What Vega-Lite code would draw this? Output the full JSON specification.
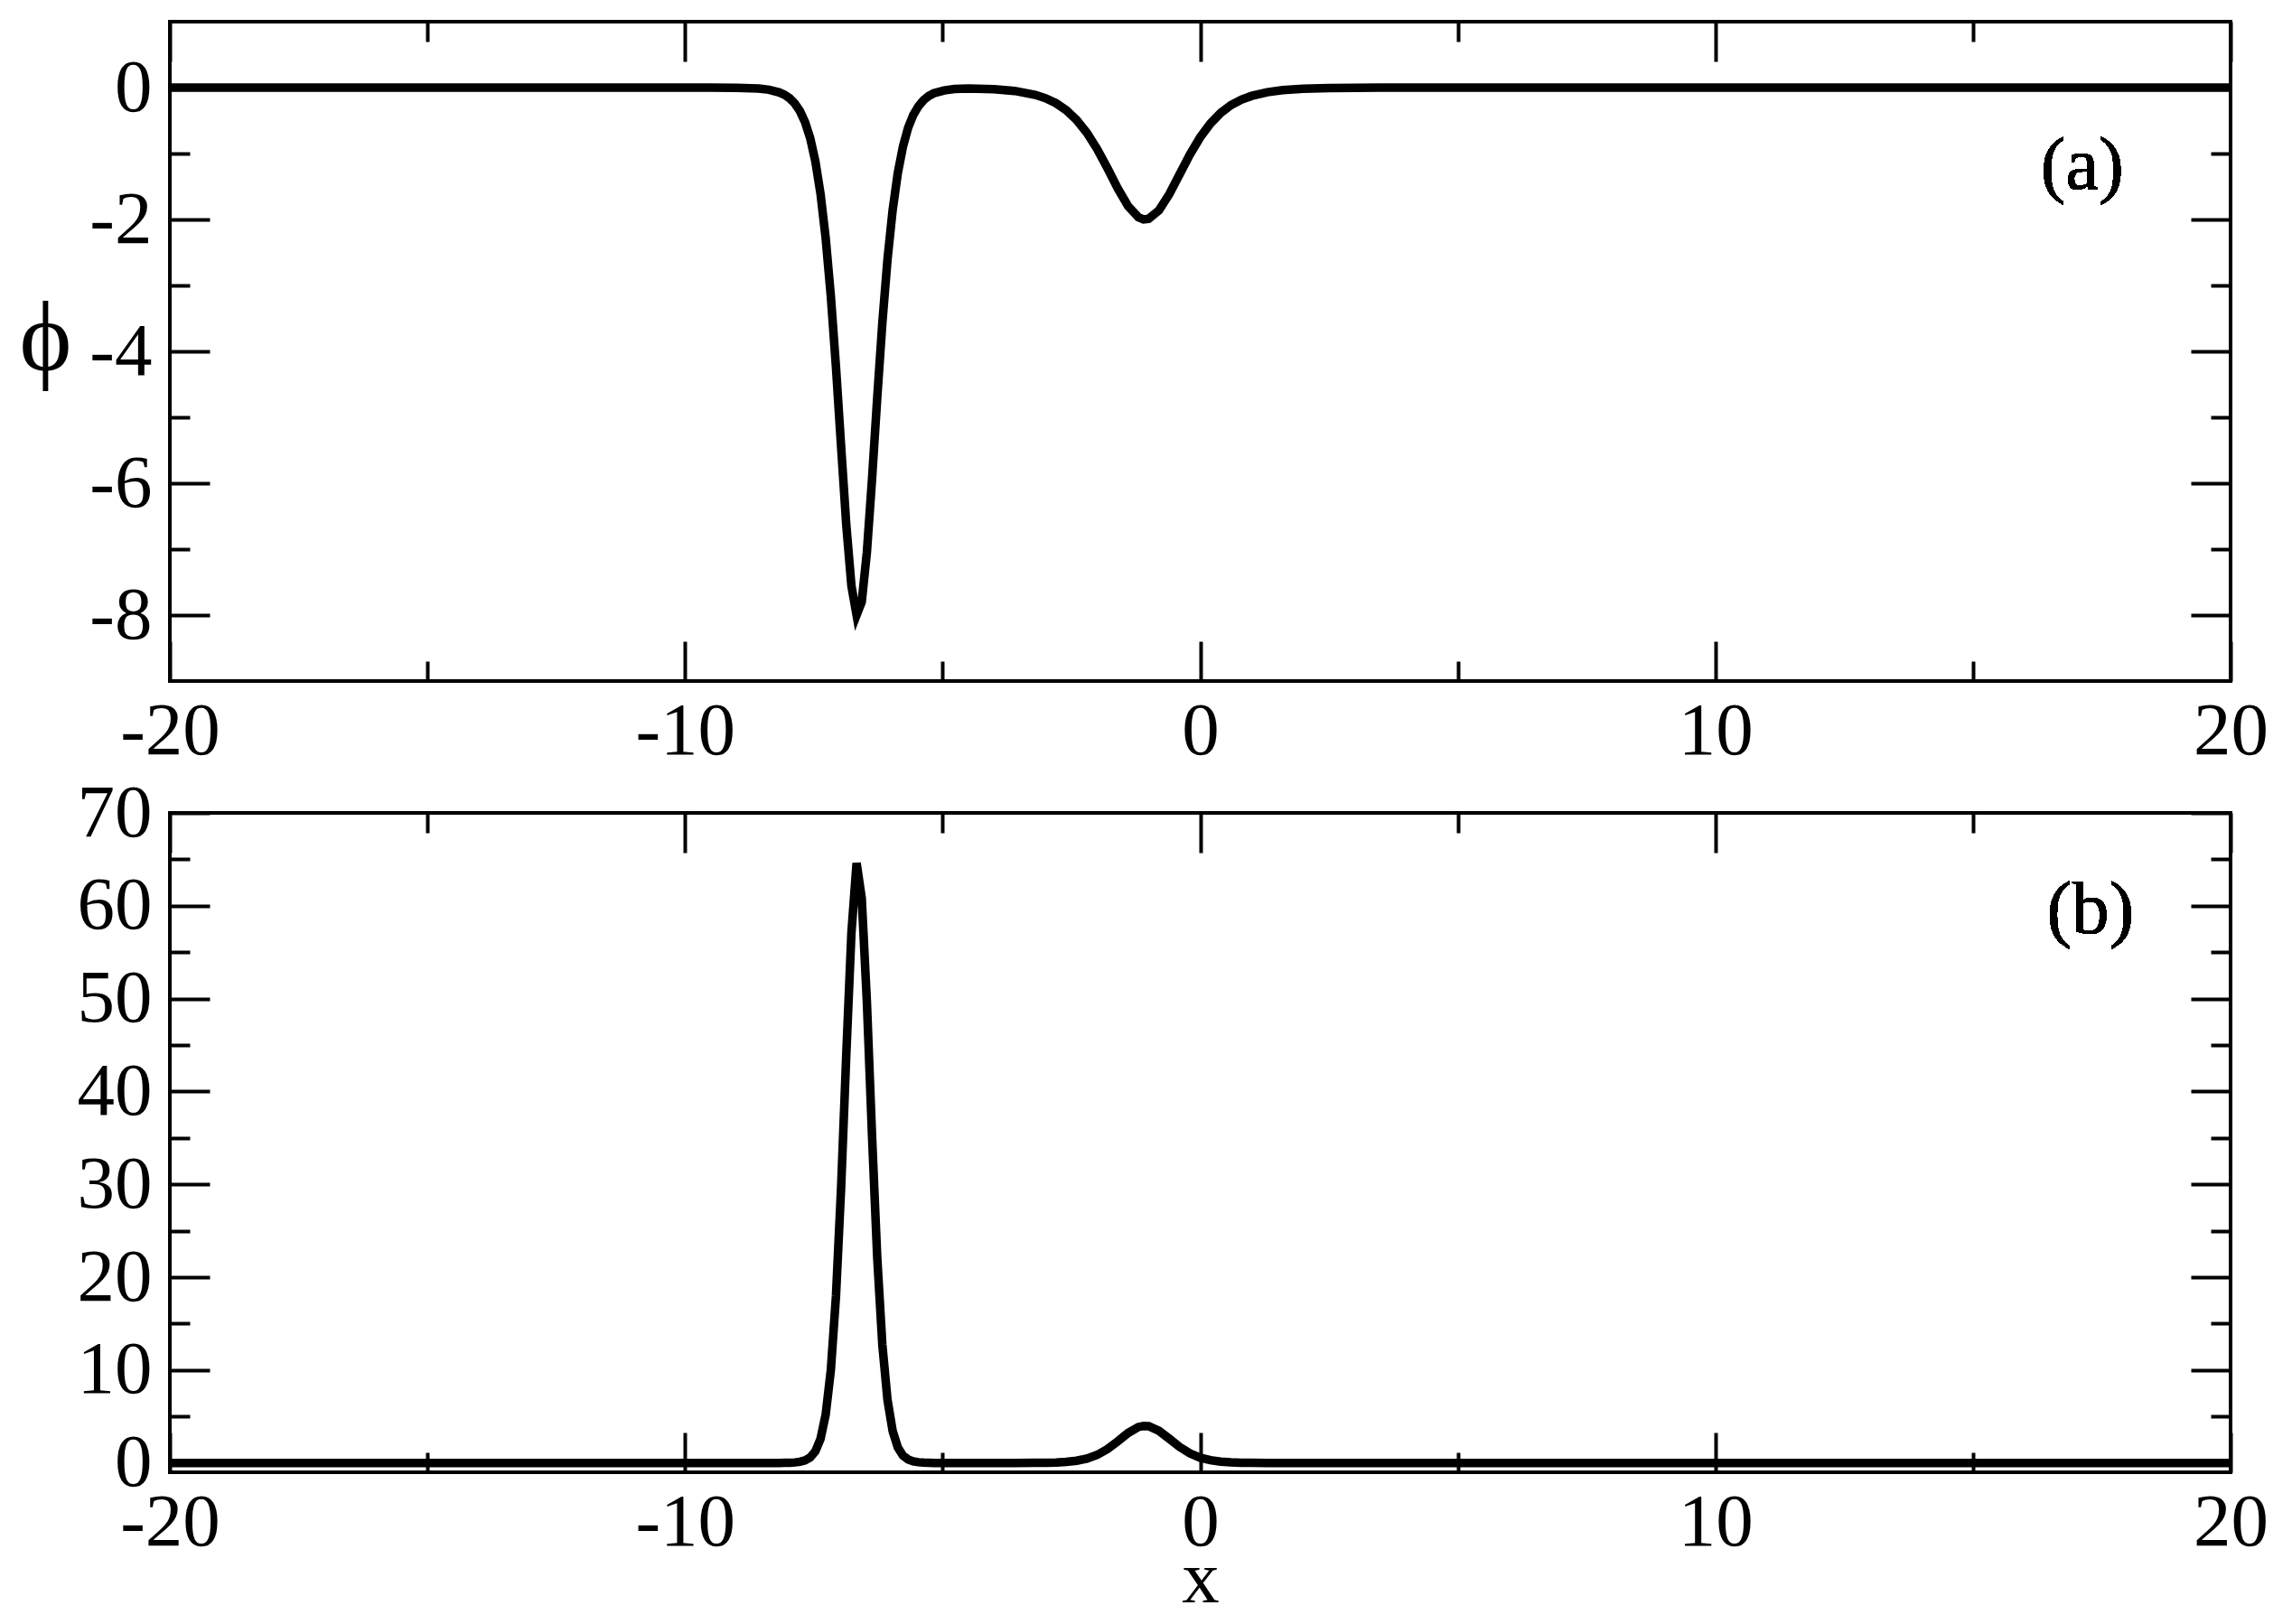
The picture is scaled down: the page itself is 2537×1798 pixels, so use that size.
{
  "$schema": "https://vega.github.io/schema/vega-lite/v6.json",
  "padding": {"left": 19, "top": 20, "right": 5, "bottom": 5},
  "background": "white",
  "config": {
    "font": "Liberation Serif",
    "view": {"stroke": "black", "strokeWidth": 4},
    "axis": {
      "domain": false, "grid": false, "tickColor": "black", "tickWidth": 4,
      "labelColor": "black", "labelFont": "Liberation Serif", "labelFontSize": 83,
      "labelFlush": false, "labelOverlap": false, "labelBound": false,
      "labelExpr": "'' + datum.value",
      "titleFont": "Liberation Serif", "titleColor": "black", "titleFontWeight": "normal"
    }
  },
  "datasets": {
    "phi": [
      {"x": -20, "y": 0}, {"x": -15, "y": 0}, {"x": -12, "y": 0}, {"x": -10, "y": 0},
      {"x": -9.5, "y": -0.0004}, {"x": -9, "y": -0.0027}, {"x": -8.57, "y": -0.0148},
      {"x": -8.37, "y": -0.0328}, {"x": -8.17, "y": -0.0729}, {"x": -8.07, "y": -0.1084},
      {"x": -7.97, "y": -0.1614}, {"x": -7.87, "y": -0.2395}, {"x": -7.77, "y": -0.3546},
      {"x": -7.67, "y": -0.5233}, {"x": -7.57, "y": -0.7678}, {"x": -7.47, "y": -1.1178},
      {"x": -7.37, "y": -1.610}, {"x": -7.27, "y": -2.281}, {"x": -7.17, "y": -3.161},
      {"x": -7.07, "y": -4.238}, {"x": -6.97, "y": -5.449}, {"x": -6.87, "y": -6.631},
      {"x": -6.77, "y": -7.556}, {"x": -6.67, "y": -8.0}, {"x": -6.57, "y": -7.799},
      {"x": -6.47, "y": -7.047}, {"x": -6.37, "y": -5.936}, {"x": -6.27, "y": -4.713},
      {"x": -6.17, "y": -3.568}, {"x": -6.07, "y": -2.607}, {"x": -5.97, "y": -1.856},
      {"x": -5.87, "y": -1.296}, {"x": -5.77, "y": -0.894}, {"x": -5.67, "y": -0.611},
      {"x": -5.57, "y": -0.415}, {"x": -5.47, "y": -0.283}, {"x": -5.37, "y": -0.190},
      {"x": -5.27, "y": -0.128}, {"x": -5.17, "y": -0.086}, {"x": -4.97, "y": -0.042},
      {"x": -4.77, "y": -0.022}, {"x": -4.5, "y": -0.0136}, {"x": -4, "y": -0.0235},
      {"x": -3.6, "y": -0.0502}, {"x": -3.2, "y": -0.1098}, {"x": -3, "y": -0.1616},
      {"x": -2.8, "y": -0.2363}, {"x": -2.6, "y": -0.3423}, {"x": -2.4, "y": -0.4888},
      {"x": -2.2, "y": -0.6844}, {"x": -2, "y": -0.9325}, {"x": -1.8, "y": -1.2235},
      {"x": -1.6, "y": -1.5288}, {"x": -1.4, "y": -1.7973}, {"x": -1.2, "y": -1.9666},
      {"x": -1.1, "y": -1.998}, {"x": -1, "y": -1.9902}, {"x": -0.8, "y": -1.861},
      {"x": -0.6, "y": -1.6157}, {"x": -0.4, "y": -1.3156}, {"x": -0.2, "y": -1.0161},
      {"x": 0, "y": -0.7535}, {"x": 0.2, "y": -0.542}, {"x": 0.4, "y": -0.3815},
      {"x": 0.6, "y": -0.2644}, {"x": 0.8, "y": -0.1813}, {"x": 1, "y": -0.1254},
      {"x": 1.3, "y": -0.0693}, {"x": 1.6, "y": -0.0382}, {"x": 2, "y": -0.0172},
      {"x": 2.5, "y": -0.0063}, {"x": 3, "y": -0.0023}, {"x": 4, "y": -0.0003},
      {"x": 5, "y": 0}, {"x": 10, "y": 0}, {"x": 15, "y": 0}, {"x": 20, "y": 0}
    ],
    "sq": [
      {"x": -20, "y": 0}, {"x": -15, "y": 0}, {"x": -12, "y": 0}, {"x": -10, "y": 0},
      {"x": -9.5, "y": 0}, {"x": -9, "y": 0}, {"x": -8.57, "y": 0.0002},
      {"x": -8.37, "y": 0.0011}, {"x": -8.17, "y": 0.0053}, {"x": -8.07, "y": 0.0118},
      {"x": -7.97, "y": 0.026}, {"x": -7.87, "y": 0.0574}, {"x": -7.77, "y": 0.1257},
      {"x": -7.67, "y": 0.2738}, {"x": -7.57, "y": 0.5895}, {"x": -7.47, "y": 1.2495},
      {"x": -7.37, "y": 2.592}, {"x": -7.27, "y": 5.203}, {"x": -7.17, "y": 9.992},
      {"x": -7.07, "y": 17.96}, {"x": -6.97, "y": 29.69}, {"x": -6.87, "y": 43.97},
      {"x": -6.77, "y": 57.09}, {"x": -6.67, "y": 64.6}, {"x": -6.57, "y": 60.82},
      {"x": -6.47, "y": 49.66}, {"x": -6.37, "y": 35.24}, {"x": -6.27, "y": 22.21},
      {"x": -6.17, "y": 12.73}, {"x": -6.07, "y": 6.796}, {"x": -5.97, "y": 3.445},
      {"x": -5.87, "y": 1.68}, {"x": -5.77, "y": 0.799}, {"x": -5.67, "y": 0.373},
      {"x": -5.57, "y": 0.172}, {"x": -5.47, "y": 0.08}, {"x": -5.37, "y": 0.036},
      {"x": -5.27, "y": 0.016}, {"x": -5.17, "y": 0.007}, {"x": -4.97, "y": 0.002},
      {"x": -4.77, "y": 0.0005}, {"x": -4.5, "y": 0.0002}, {"x": -4, "y": 0.0006},
      {"x": -3.6, "y": 0.0025}, {"x": -3.2, "y": 0.0121}, {"x": -3, "y": 0.0261},
      {"x": -2.8, "y": 0.0558}, {"x": -2.6, "y": 0.1172}, {"x": -2.4, "y": 0.2389},
      {"x": -2.2, "y": 0.4684}, {"x": -2, "y": 0.8696}, {"x": -1.8, "y": 1.497},
      {"x": -1.6, "y": 2.337}, {"x": -1.4, "y": 3.23}, {"x": -1.2, "y": 3.868},
      {"x": -1.1, "y": 3.992}, {"x": -1, "y": 3.961}, {"x": -0.8, "y": 3.463},
      {"x": -0.6, "y": 2.61}, {"x": -0.4, "y": 1.731}, {"x": -0.2, "y": 1.032},
      {"x": 0, "y": 0.568}, {"x": 0.2, "y": 0.294}, {"x": 0.4, "y": 0.146},
      {"x": 0.6, "y": 0.07}, {"x": 0.8, "y": 0.033}, {"x": 1, "y": 0.016},
      {"x": 1.3, "y": 0.005}, {"x": 1.6, "y": 0.0015}, {"x": 2, "y": 0.0003},
      {"x": 2.5, "y": 0}, {"x": 3, "y": 0}, {"x": 4, "y": 0},
      {"x": 5, "y": 0}, {"x": 10, "y": 0}, {"x": 15, "y": 0}, {"x": 20, "y": 0}
    ]
  },
  "spacing": 146,
  "bounds": "flush",
  "vconcat": [
    {
      "width": 2281,
      "height": 730,
      "data": {"name": "phi"},
      "resolve": {"axis": {"x": "independent", "y": "independent"}},
      "layer": [
        {
          "mark": {"type": "line", "color": "black", "strokeWidth": 9.5, "strokeJoin": "miter"},
          "encoding": {
            "x": {"field": "x", "type": "quantitative",
              "scale": {"domain": [-20, 20], "nice": false, "zero": false},
              "axis": {"orient": "bottom", "values": [-20, -10, 0, 10, 20], "tickSize": -44, "labelPadding": 58, "title": null}},
            "y": {"field": "y", "type": "quantitative",
              "scale": {"domain": [-9, 1], "nice": false, "zero": false},
              "axis": {"orient": "left", "values": [-8, -6, -4, -2, 0], "tickSize": -44, "labelPadding": 64,
                "title": "ϕ", "titleAngle": 0, "titleFontSize": 110, "titleAlign": "left", "titleBaseline": "alphabetic",
                "titleX": -167, "titleY": 385}}
          }
        },
        {
          "mark": {"type": "line", "strokeOpacity": 0},
          "encoding": {
            "x": {"field": "x", "type": "quantitative",
              "axis": {"orient": "bottom", "values": [-15, -5, 5, 15], "tickSize": -22, "labels": false, "title": null}},
            "y": {"field": "y", "type": "quantitative",
              "axis": {"orient": "left", "values": [-7, -5, -3, -1], "tickSize": -22, "labels": false, "title": null}}
          }
        },
        {
          "mark": {"type": "line", "strokeOpacity": 0},
          "encoding": {
            "x": {"field": "x", "type": "quantitative",
              "axis": {"orient": "top", "values": [-20, -10, 0, 10, 20], "tickSize": -44, "labels": false, "title": null}},
            "y": {"field": "y", "type": "quantitative",
              "axis": {"orient": "right", "values": [-8, -6, -4, -2, 0], "tickSize": -44, "labels": false, "title": null}}
          }
        },
        {
          "mark": {"type": "line", "strokeOpacity": 0},
          "encoding": {
            "x": {"field": "x", "type": "quantitative",
              "axis": {"orient": "top", "values": [-15, -5, 5, 15], "tickSize": -22, "labels": false, "title": null}},
            "y": {"field": "y", "type": "quantitative",
              "axis": {"orient": "right", "values": [-7, -5, -3, -1], "tickSize": -22, "labels": false, "title": null}}
          }
        },
        {
          "mark": {"type": "text", "fontSize": 83, "font": "Liberation Serif", "align": "center", "baseline": "middle", "color": "black"},
          "encoding": {
            "x": {"datum": 17.12, "type": "quantitative", "axis": null},
            "y": {"datum": -1.19, "type": "quantitative", "axis": null},
            "text": {"value": "(a)"}
          }
        }
      ]
    },
    {
      "width": 2281,
      "height": 730,
      "data": {"name": "sq"},
      "resolve": {"axis": {"x": "independent", "y": "independent"}},
      "layer": [
        {
          "mark": {"type": "line", "color": "black", "strokeWidth": 9.5, "strokeJoin": "miter"},
          "encoding": {
            "x": {"field": "x", "type": "quantitative",
              "scale": {"domain": [-20, 20], "nice": false, "zero": false},
              "axis": {"orient": "bottom", "values": [-20, -10, 0, 10, 20], "tickSize": -44, "labelPadding": 58,
                "title": "x", "titleFontSize": 83, "titleBaseline": "alphabetic", "titleY": 143}},
            "y": {"field": "y", "type": "quantitative",
              "scale": {"domain": [-1, 70], "nice": false, "zero": false},
              "axis": {"orient": "left", "values": [0, 10, 20, 30, 40, 50, 60, 70], "tickSize": -44, "labelPadding": 64, "title": null}}
          }
        },
        {
          "mark": {"type": "line", "strokeOpacity": 0},
          "encoding": {
            "x": {"field": "x", "type": "quantitative",
              "axis": {"orient": "bottom", "values": [-15, -5, 5, 15], "tickSize": -22, "labels": false, "title": null}},
            "y": {"field": "y", "type": "quantitative",
              "axis": {"orient": "left", "values": [5, 15, 25, 35, 45, 55, 65], "tickSize": -22, "labels": false, "title": null}}
          }
        },
        {
          "mark": {"type": "line", "strokeOpacity": 0},
          "encoding": {
            "x": {"field": "x", "type": "quantitative",
              "axis": {"orient": "top", "values": [-20, -10, 0, 10, 20], "tickSize": -44, "labels": false, "title": null}},
            "y": {"field": "y", "type": "quantitative",
              "axis": {"orient": "right", "values": [0, 10, 20, 30, 40, 50, 60, 70], "tickSize": -44, "labels": false, "title": null}}
          }
        },
        {
          "mark": {"type": "line", "strokeOpacity": 0},
          "encoding": {
            "x": {"field": "x", "type": "quantitative",
              "axis": {"orient": "top", "values": [-15, -5, 5, 15], "tickSize": -22, "labels": false, "title": null}},
            "y": {"field": "y", "type": "quantitative",
              "axis": {"orient": "right", "values": [5, 15, 25, 35, 45, 55, 65], "tickSize": -22, "labels": false, "title": null}}
          }
        },
        {
          "mark": {"type": "text", "fontSize": 83, "font": "Liberation Serif", "align": "center", "baseline": "middle", "color": "black"},
          "encoding": {
            "x": {"datum": 17.28, "type": "quantitative", "axis": null},
            "y": {"datum": 59.5, "type": "quantitative", "axis": null},
            "text": {"value": "(b)"}
          }
        }
      ]
    }
  ]
}
